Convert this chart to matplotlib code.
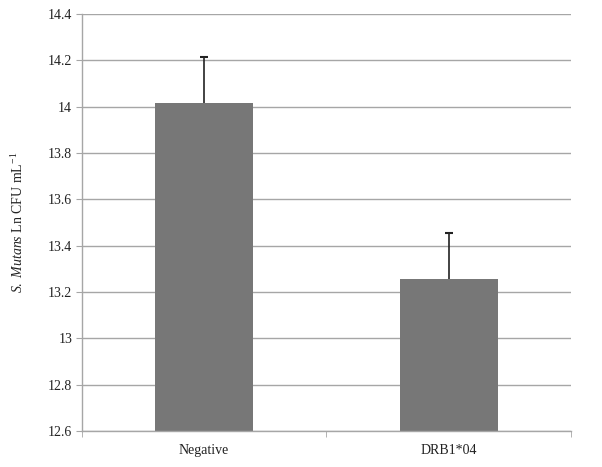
import numpy as np
import matplotlib
matplotlib.use("Agg")
from matplotlib import pyplot as plt
from matplotlib.ticker import FuncFormatter

plt.rcParams["font.family"] = ["Liberation Serif", "DejaVu Serif"]
plt.rcParams["mathtext.fontset"] = "custom"
plt.rcParams["mathtext.rm"] = "Liberation Serif"
plt.rcParams["mathtext.it"] = "Liberation Serif:italic"

categories = ["Negative", "DRB1*04"]
means = [14.015, 13.255]
errors = [0.2, 0.2]
y_ticks = [12.6, 12.8, 13.0, 13.2, 13.4, 13.6, 13.8, 14.0, 14.2, 14.4]

fig = plt.figure(figsize=(6.02, 4.67), dpi=100)
ax = fig.add_axes([0.136, 0.077, 0.8125, 0.893])

grid_color = "#a6a6a6"
positions = np.arange(len(categories)) + 0.5
ax.bar(positions, means, width=0.4, color="#777777", zorder=2)

# upper-only error bars: hide the lower cap that errorbar draws at the bar top
_, caps, _ = ax.errorbar(positions, means, yerr=[np.zeros(len(errors)), errors], fmt="none",
                         ecolor="#222222", elinewidth=1.2, capsize=3, capthick=1.5, zorder=3)
caps[0].set_visible(False)

ax.set_xlim(0, len(categories))
ax.set_ylim(y_ticks[0], y_ticks[-1])
ax.set_yticks(y_ticks)
ax.yaxis.set_major_formatter(FuncFormatter(lambda v, p: f"{v:g}"))
ax.yaxis.grid(True, color=grid_color, linewidth=1.0, zorder=0)
ax.set_axisbelow(True)

ax.set_xticks(positions)
ax.set_xticklabels(categories)
ax.set_xticks(np.arange(len(categories) + 1), minor=True)
ax.tick_params(axis="x", which="major", length=0, pad=9, labelsize=10, colors="#222222")
ax.tick_params(axis="x", which="minor", length=4, color=grid_color, direction="out")
ax.tick_params(axis="y", length=4, color=grid_color, direction="out", labelsize=10,
               labelcolor="#222222", pad=3)

for side in ["top", "right"]:
    ax.spines[side].set_visible(False)
for side in ["left", "bottom"]:
    ax.spines[side].set_color(grid_color)
    ax.spines[side].set_linewidth(1.0)

ax.set_ylabel(r"$\mathit{S.\ Mutans}$ Ln CFU mL$^{-1}$", fontsize=10, color="#222222", labelpad=16)

fig.savefig("out.png", dpi=100)
